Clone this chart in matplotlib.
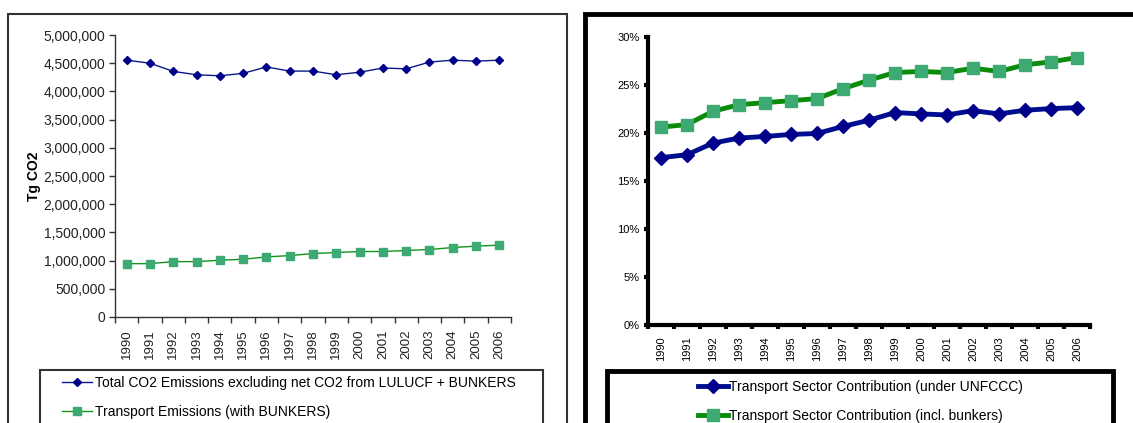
import matplotlib
matplotlib.use("Agg")
import matplotlib.pyplot as plt
from matplotlib.patches import Rectangle
from matplotlib.ticker import FuncFormatter, FixedLocator

years = [str(y) for y in range(1990, 2007)]

# left chart, Tg CO2
total_co2 = [4554000, 4500000, 4355000, 4295000, 4277000, 4320000, 4434000, 4360000,
             4360000, 4295000, 4340000, 4415000, 4400000, 4520000, 4554000, 4536000, 4554000]
transport_co2 = [946000, 946000, 982000, 982000, 1006000, 1024000, 1065000, 1089000,
                 1125000, 1143000, 1161000, 1161000, 1179000, 1196000, 1232000, 1256000, 1274000]

# right chart, percent
share_unfccc = [17.43, 17.74, 18.95, 19.47, 19.64, 19.85, 19.95, 20.68, 21.33,
                22.13, 21.99, 21.88, 22.33, 21.99, 22.37, 22.54, 22.64]
share_bunkers = [20.61, 20.88, 22.26, 22.95, 23.16, 23.37, 23.58, 24.61, 25.51,
                 26.30, 26.41, 26.30, 26.75, 26.41, 27.10, 27.41, 27.86]

label_total = "Total CO2 Emissions excluding net CO2 from LULUCF + BUNKERS"
label_transport = "Transport Emissions (with BUNKERS)"
label_unfccc = "Transport Sector Contribution (under UNFCCC)"
label_bunkers = "Transport Sector Contribution (incl. bunkers)"

plt.rcParams['font.family'] = ['Liberation Sans', 'DejaVu Sans']

W, H = 1133, 423
fig = plt.figure(figsize=(W / 100, H / 100), dpi=100)


def fx(px):
    return px / W


def fy(py):
    return 1 - py / H


xpos = [i + 0.5 for i in range(len(years))]

# ---------------- left chart ----------------
ax1 = fig.add_axes([fx(115), fy(317), fx(511 - 115), (317 - 35) / H])
l1, = ax1.plot(xpos, total_co2, color='#0a1a8c', lw=1, marker='D', ms=4.5,
               mfc='#00008b', mec='#00008b')
l2, = ax1.plot(xpos, transport_co2, color='#12941a', lw=1, marker='s', ms=5.5,
               mfc='#3caa72', mec='#3caa72')
ax1.set_xlim(0, len(years))
ax1.set_ylim(0, 5000000)
ax1.set_yticks(range(0, 5000001, 500000))
ax1.yaxis.set_major_formatter(FuncFormatter(lambda v, p: f"{int(v):,}"))
ax1.set_xticks(xpos)
ax1.set_xticklabels(years, rotation=90)
ax1.xaxis.set_minor_locator(FixedLocator(range(len(years) + 1)))
ax1.tick_params(axis='x', which='major', length=0, pad=9, labelsize=9.5, colors='#222222')
ax1.tick_params(axis='x', which='minor', length=4, width=1, color='#333333')
ax1.tick_params(axis='y', length=4, width=1, color='#333333', labelsize=10,
                labelcolor='#222222', pad=3)
for s in ['top', 'right']:
    ax1.spines[s].set_visible(False)
for s in ['left', 'bottom']:
    ax1.spines[s].set_color('#333333')
    ax1.spines[s].set_linewidth(1)
ax1.set_ylabel("Tg CO2", fontweight='bold', fontsize=10, labelpad=2)

fig.add_artist(Rectangle((fx(8), -0.2), fx(567 - 8), fy(14) + 0.2, transform=fig.transFigure,
                         fill=False, ec='#333333', lw=1.5))
fig.add_artist(Rectangle((fx(40), -0.2), fx(543 - 40), fy(370) + 0.2, transform=fig.transFigure,
                         fill=False, ec='#333333', lw=1.5))
fig.legend([l1, l2], [label_total, label_transport], loc='upper left',
           bbox_to_anchor=(fx(62), fy(376)), frameon=False, fontsize=10,
           handlelength=2.15, handletextpad=0.2, labelspacing=1.05,
           borderpad=0, borderaxespad=0)

# ---------------- right chart ----------------
ax2 = fig.add_axes([fx(648), fy(325), fx(1090 - 648), (325 - 37) / H])
r1, = ax2.plot(xpos, share_unfccc, color='#000f8f', lw=3.5, marker='D', ms=7,
               mfc='#00008b', mec='#00008b')
r2, = ax2.plot(xpos, share_bunkers, color='#0a8c0a', lw=3.5, marker='s', ms=8,
               mfc='#3caa72', mec='#3caa72')
ax2.set_xlim(0, len(years))
ax2.set_ylim(0, 30)
ax2.set_yticks(range(0, 31, 5))
ax2.yaxis.set_major_formatter(FuncFormatter(lambda v, p: f"{int(v)}%"))
ax2.set_xticks(xpos)
ax2.set_xticklabels(years, rotation=90)
ax2.xaxis.set_minor_locator(FixedLocator(range(len(years) + 1)))
ax2.tick_params(axis='x', which='major', length=0, pad=8, labelsize=8)
ax2.tick_params(axis='x', which='minor', length=3, width=3, color='black')
ax2.tick_params(axis='y', length=3, width=3, color='black', labelsize=8, pad=3)
for s in ['top', 'right']:
    ax2.spines[s].set_visible(False)
for s in ['left', 'bottom']:
    ax2.spines[s].set_color('black')
    ax2.spines[s].set_linewidth(3)

fig.add_artist(Rectangle((fx(585), -0.2), 1, fy(14) + 0.2, transform=fig.transFigure,
                         fill=False, ec='black', lw=3.5))
fig.add_artist(Rectangle((fx(607), -0.2), fx(1113 - 607), fy(371) + 0.2, transform=fig.transFigure,
                         fill=False, ec='black', lw=3.5))
fig.legend([r1, r2], [label_unfccc, label_bunkers], loc='upper left',
           bbox_to_anchor=(fx(698), fy(380)), frameon=False, fontsize=10,
           handlelength=2.15, handletextpad=0.1, labelspacing=1.05,
           borderpad=0, borderaxespad=0)

fig.savefig("out.png", dpi=100)
